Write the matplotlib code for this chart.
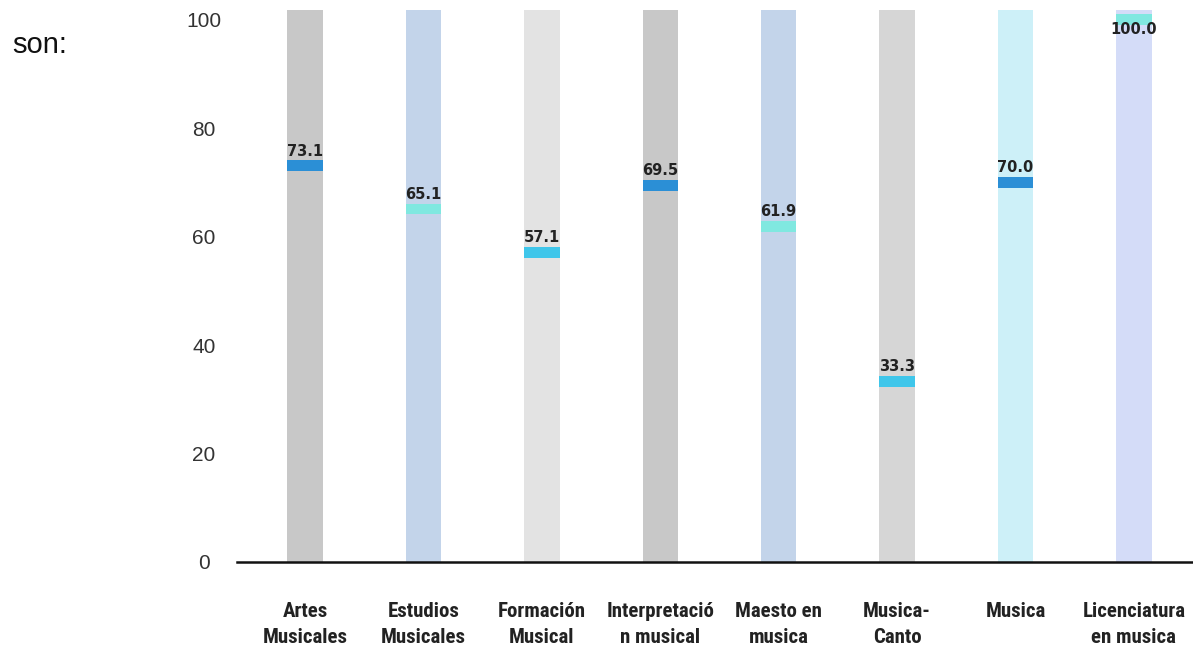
import matplotlib
matplotlib.use("Agg")
import matplotlib.pyplot as plt
import numpy as np

# Data
CATEGORIES = [
    "Artes\nMusicales", "Estudios\nMusicales", "Formación\nMusical",
    "Interpretació\nn musical", "Maesto en\nmusica", "Musica-\nCanto",
    "Musica", "Licenciatura\nen musica",
]
VALUES = [73.1, 65.1, 57.1, 69.5, 61.9, 33.3, 70.0, 100.0]
Y_TICKS = [0, 20, 40, 60, 80, 100]

BG_COLORS = ["#c8c8c8", "#c3d4ea", "#e3e3e3", "#c8c8c8",
             "#c3d4ea", "#d6d6d6", "#cdf0f8", "#d4dcf8"]
MARK_COLORS = ["#2b8fd6", "#80e8e0", "#3fc6ea", "#2b8fd6",
               "#80e8e0", "#3fc6ea", "#2b8fd6", "#80e8e0"]

TOP = 101.8
BAR_W = 0.30
MARK_H = 2.0

fig = plt.figure(figsize=(11.93, 6.45), dpi=100)
ax = fig.add_axes([0.1987, 0.1287, 0.8013, 0.8558])

x = np.arange(len(CATEGORIES))
# background columns
ax.bar(x, [TOP] * len(x), width=BAR_W, color=BG_COLORS, zorder=1)
# value markers
ax.bar(x, [MARK_H] * len(x), bottom=np.array(VALUES) - MARK_H / 2,
       width=BAR_W, color=MARK_COLORS, zorder=2)

for xi, v in zip(x, VALUES):
    if v + MARK_H > TOP - 3:
        ax.text(xi, v - 0.4, f"{v:.1f}", ha="center", va="top",
                fontsize=10.5, fontweight="bold", color="#222222", zorder=3)
    else:
        ax.text(xi, v + MARK_H / 2 + 0.3, f"{v:.1f}", ha="center", va="bottom",
                fontsize=10.5, fontweight="bold", color="#222222", zorder=3)

ax.set_xlim(-0.575, 7.5)
ax.set_ylim(0, TOP)
ax.set_yticks(Y_TICKS)
ax.set_xticks(x)
ax.set_xticklabels(CATEGORIES, family=["Roboto Condensed", "Roboto"],
                   fontweight="bold", fontstretch="condensed", fontsize=15,
                   color="#222222", linespacing=1.45)
ax.tick_params(axis="x", length=0, pad=29)
ax.tick_params(axis="y", length=0, pad=24, labelsize=15, labelcolor="#333333")
for lab in ax.get_yticklabels():
    lab.set_horizontalalignment("center")
    lab.set_family("Liberation Sans")

for side in ["top", "right", "left"]:
    ax.spines[side].set_visible(False)
ax.spines["bottom"].set_linewidth(1.8)
ax.spines["bottom"].set_color("#111111")
ax.spines["bottom"].set_zorder(4)

fig.text(0.01, 0.93, "son:", fontsize=21, family="Liberation Sans",
         color="#111111", va="center", ha="left")

fig.savefig("out.png", dpi=100)
